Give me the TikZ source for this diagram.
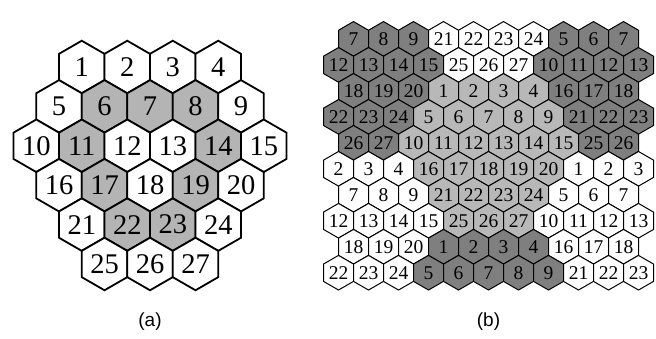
\documentclass[tikz,border=0pt]{standalone}
\usepackage{fontspec}
\setmainfont{Liberation Serif}
\newfontfamily\numfont{Liberation Serif}
\newfontfamily\capfont{Liberation Sans}
\usetikzlibrary{shapes.geometric}
\definecolor{hexW}{RGB}{255,255,255}
\definecolor{hexG}{RGB}{180,180,180}
\definecolor{hexD}{RGB}{127,127,127}
\definecolor{hexL}{RGB}{184,184,184}
\tikzset{
  hexa/.style={regular polygon, regular polygon sides=6, shape border rotate=30,
    inner sep=0pt, minimum size=52.54pt, draw=black, line width=1.8pt,
    font=\numfont\fontsize{28.5}{30}\selectfont},
  hexb/.style={regular polygon, regular polygon sides=6, shape border rotate=30,
    inner sep=0pt, minimum size=34.64pt, draw=black, line width=1pt,
    font=\numfont\fontsize{19.5}{21}\selectfont},
  caption/.style={font=\capfont\fontsize{19}{21}\selectfont, inner sep=0pt}
}
\begin{document}
\begin{tikzpicture}[x=1pt,y=1pt]
\useasboundingbox (0,0) rectangle (656,-339);
% (a)
\foreach \n/\q/\r/\c in {1/-3/0/hexW,2/-1/0/hexW,3/1/0/hexW,4/3/0/hexW,
  5/-4/1/hexW,6/-2/1/hexG,7/0/1/hexG,8/2/1/hexG,9/4/1/hexW,
  10/-5/2/hexW,11/-3/2/hexG,12/-1/2/hexW,13/1/2/hexW,14/3/2/hexG,15/5/2/hexW,
  16/-4/3/hexW,17/-2/3/hexG,18/0/3/hexW,19/2/3/hexG,20/4/3/hexW,
  21/-3/4/hexW,22/-1/4/hexG,23/1/4/hexG,24/3/4/hexW,
  25/-2/5/hexW,26/0/5/hexW,27/2/5/hexW}{
  \node[hexa, fill=\c] (a\n) at ({150+22.75*\q},{-(67+39.4*\r)}) {\n};
}
\node[caption] (capa) at (150,-322) {(a)};
% (b)
\foreach \r/\lst in {
 0/{7/hexD,8/hexD,9/hexD,21/hexW,22/hexW,23/hexW,24/hexW,5/hexD,6/hexD,7/hexD},
 1/{12/hexD,13/hexD,14/hexD,15/hexD,25/hexW,26/hexW,27/hexW,10/hexD,11/hexD,12/hexD,13/hexD},
 2/{18/hexD,19/hexD,20/hexD,1/hexL,2/hexL,3/hexL,4/hexL,16/hexD,17/hexD,18/hexD},
 3/{22/hexD,23/hexD,24/hexD,5/hexL,6/hexL,7/hexL,8/hexL,9/hexL,21/hexD,22/hexD,23/hexD},
 4/{26/hexD,27/hexD,10/hexL,11/hexL,12/hexL,13/hexL,14/hexL,15/hexL,25/hexD,26/hexD},
 5/{2/hexW,3/hexW,4/hexW,16/hexL,17/hexL,18/hexL,19/hexL,20/hexL,1/hexW,2/hexW,3/hexW},
 6/{7/hexW,8/hexW,9/hexW,21/hexL,22/hexL,23/hexL,24/hexL,5/hexW,6/hexW,7/hexW},
 7/{12/hexW,13/hexW,14/hexW,15/hexW,25/hexL,26/hexL,27/hexL,10/hexW,11/hexW,12/hexW,13/hexW},
 8/{18/hexW,19/hexW,20/hexW,1/hexD,2/hexD,3/hexD,4/hexD,16/hexW,17/hexW,18/hexW},
 9/{22/hexW,23/hexW,24/hexW,5/hexD,6/hexD,7/hexD,8/hexD,9/hexD,21/hexW,22/hexW,23/hexW}}{
  \foreach [count=\k from 0] \lab/\sh in \lst {
    \pgfmathsetmacro{\xx}{338.5+15*(1-mod(\r,2))+30*\k}
    \pgfmathsetmacro{\yy}{-(38.9+25.98*\r)}
    \node[hexb, fill=\sh] (b-\r-\k) at (\xx,\yy) {\lab};
  }
}
\node[caption] (capb) at (488.5,-322) {(b)};
\end{tikzpicture}
\end{document}
